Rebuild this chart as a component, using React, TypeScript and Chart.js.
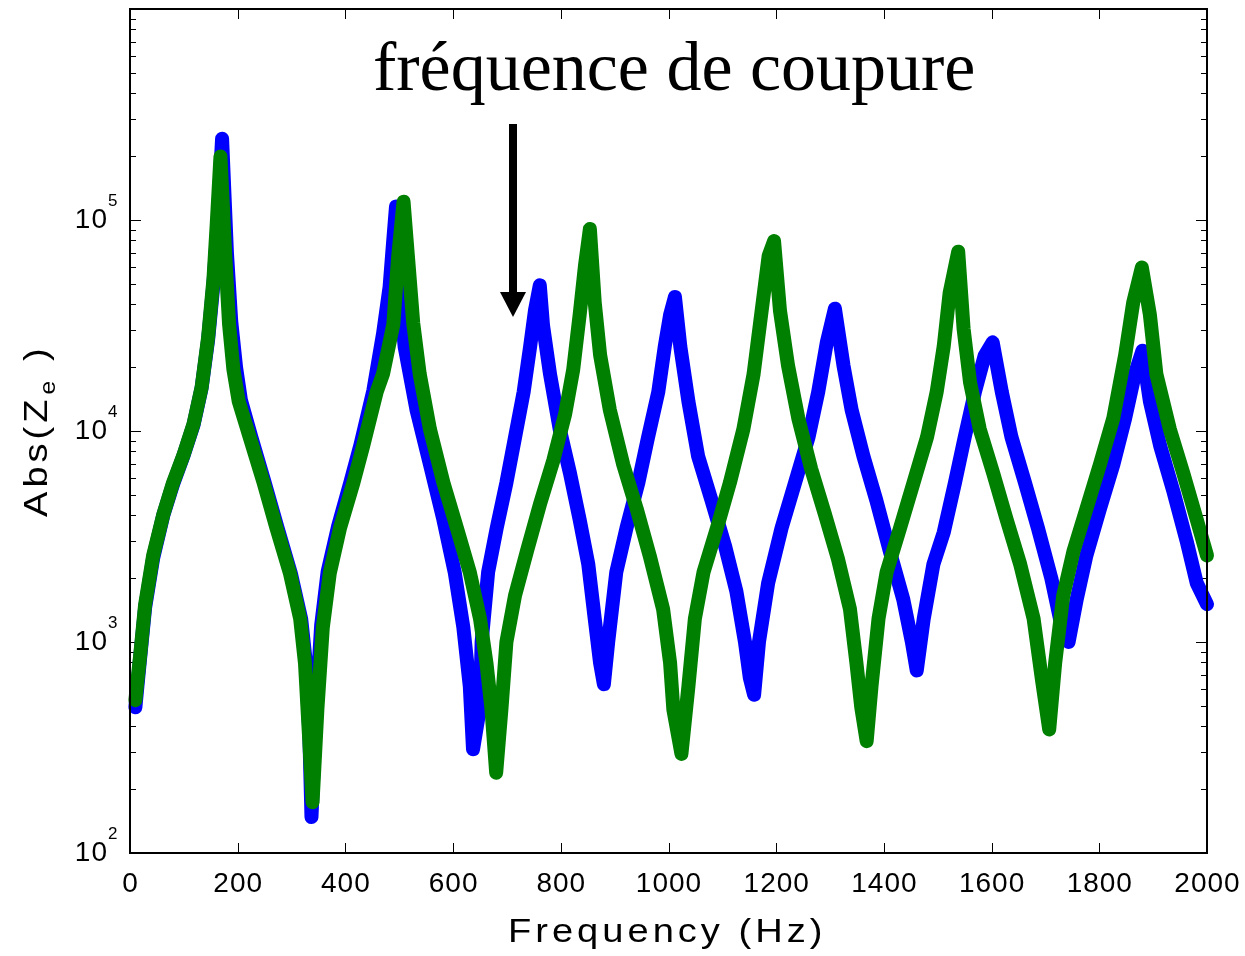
import { useEffect, useRef } from 'react';
import { Chart, registerables } from 'chart.js';

Chart.register(...registerables);

// Frequency (Hz) and |Ze| for the green curve
const freqGreen = [
  10, 19, 28, 43, 62, 80, 99, 118, 133, 145, 155, 161, 168, 177, 184, 192, 202, 222, 248, 272, 297, 316, 325, 332, 339, 348, 358, 371, 390, 415, 433, 458, 470, 489, 498, 508,
  516, 526, 538, 557, 582, 607, 631, 650, 662, 671, 680,
  690, 699, 715, 737, 761, 786, 808, 823, 835, 845, 854,
  863, 873, 891, 916, 941, 965, 990, 1003, 1009, 1024,
  1037, 1049, 1065, 1090, 1114, 1139, 1158, 1173, 1186, 1196,
  1207, 1222, 1241, 1265, 1290, 1315, 1337, 1349, 1358, 1368,
  1377, 1390, 1405, 1430, 1455, 1480, 1498, 1511, 1522, 1538,
  1548, 1560, 1578, 1603, 1628, 1653, 1678, 1693, 1707,
  1718, 1733, 1752, 1776, 1801, 1826, 1848, 1863, 1879,
  1894, 1906, 1931, 1956, 1981, 2000,
];
const zGreen = [
  530, 870, 1500, 2570, 4030, 5690, 7650, 10800, 16100, 27700, 52600, 95000, 200000, 67000, 32000, 19600, 13800, 9400, 5700, 3470, 2120, 1290, 790, 376, 174, 480, 1170, 2120, 3470, 5700, 8500, 15300, 18700, 32000, 67000, 122000,
  67600, 32400, 18600, 10200, 5690, 3470, 2140, 1290, 794, 490, 240,
  490, 1000, 1660, 2690, 4470, 7240, 12000, 19500, 35500, 61000, 90600,
  40700, 22900, 12600, 6920, 4270, 2570, 1430, 794, 479, 295,
  617, 1290, 2140, 3470, 5690, 10200, 18600, 37200, 67600, 79400,
  37200, 20400, 11500, 6610, 4070, 2460, 1430, 794, 490, 339,
  617, 1290, 2140, 3470, 5690, 9330, 15300, 25100, 45000, 70800,
  30500, 17000, 10200, 6310, 3800, 2340, 1290, 676, 385,
  794, 1660, 2690, 4270, 6920, 11500, 22900, 40700, 59600,
  35500, 18600, 10200, 6310, 3800, 2570,
];

// Frequency (Hz) and |Ze| for the blue curve
const freqBlue = [
  10, 19, 28, 43, 62, 80, 99, 118, 133, 145, 155, 162, 171, 180, 188, 197, 206, 225, 250, 274, 299, 318, 327, 333, 337, 346, 355, 367, 386, 410, 428, 452, 470, 482, 488, 494,
  503, 510, 532, 557, 582, 603, 619, 631, 637,
  650, 653, 665, 681, 699, 715, 731, 743, 752, 761,
  767, 780, 798, 817, 835, 851, 863, 873, 880,
  888, 903, 922, 944, 962, 981, 993, 1003, 1012,
  1022, 1037, 1055, 1080, 1105, 1126, 1142, 1151, 1159,
  1168, 1185, 1210, 1235, 1260, 1278, 1294, 1309,
  1325, 1340, 1362, 1386, 1411, 1436, 1452, 1461,
  1474, 1492, 1511, 1532, 1550, 1569, 1587, 1602,
  1619, 1637, 1662, 1686, 1711, 1727, 1743,
  1758, 1776, 1801, 1826, 1848, 1866, 1880,
  1894, 1913, 1938, 1962, 1981, 2000,
];
const zBlue = [
  490, 850, 1450, 2500, 4000, 5600, 7600, 10700, 16000, 27000, 50000, 90000, 243000, 70000, 33000, 20000, 14000, 9400, 5700, 3470, 2100, 1280, 780, 370, 148, 500, 1200, 2150, 3500, 5800, 8600, 15600, 29000, 48000, 75000, 116000,
  40000, 25100, 12600, 6950, 3800, 2140, 1175, 617, 310,
  490, 1000, 2140, 3470, 5690, 9330, 15300, 25100, 37200, 49000,
  31600, 18600, 10200, 6310, 3800, 2340, 1290, 794, 631,
  1000, 2140, 3470, 5690, 9330, 15300, 25100, 35500, 43200,
  25100, 13800, 7590, 4680, 2850, 1740, 1000, 676, 562,
  1000, 1900, 3470, 5690, 9330, 15300, 26300, 38000,
  20400, 12600, 7590, 4680, 2690, 1590, 1000, 733,
  1290, 2340, 3300, 5690, 9330, 15300, 22700, 26300,
  15300, 9330, 5690, 3470, 2000, 1290, 1000,
  1590, 2570, 4270, 6920, 11500, 18600, 24000,
  13800, 8510, 5130, 3020, 1900, 1510,
];

const xTicks = [0, 200, 400, 600, 800, 1000, 1200, 1400, 1600, 1800, 2000];
const yDecadeExponents = [2, 3, 4, 5, 6];
const yLabelExponents = [2, 3, 4, 5];
const xTitle = 'Frequency (Hz)';
const yTitleMain = 'Abs(Z';
const yTitleSub = 'e';
const yTitleEnd = ')';
const annotationText = 'fréquence de coupure';

const SANS = "'Liberation Sans', Arial, sans-serif";
const SERIF = "'Liberation Serif', 'Times New Roman', serif";

function stretchedText(ctx: any, text: string, x: number, y: number, font: string, sx: number, spacing: number) {
  ctx.save();
  ctx.translate(x, y);
  ctx.scale(sx, 1);
  ctx.font = font;
  ctx.letterSpacing = `${spacing / sx}px`;
  ctx.textAlign = 'left';
  ctx.textBaseline = 'alphabetic';
  ctx.fillText(text, 0, 0);
  const w = ctx.measureText(text).width * sx;
  ctx.restore();
  return w;
}

export default function App() {
  const ref = useRef<HTMLCanvasElement>(null);

  useEffect(() => {
    const canvas = ref.current;
    if (!canvas) return;

    const axesPlugin = {
      id: 'matlabAxes',
      beforeDatasetsDraw(chart: any) {
        const { ctx, chartArea } = chart;
        const xs = chart.scales.x;
        const ys = chart.scales.y;
        const { left, right, top, bottom } = chartArea;
        ctx.save();
        ctx.strokeStyle = '#000000';
        ctx.lineWidth = 1;
        ctx.beginPath();
        for (const t of xTicks) {
          const px = Math.round(xs.getPixelForValue(t)) + 0.5;
          ctx.moveTo(px, bottom);
          ctx.lineTo(px, bottom - 10);
          ctx.moveTo(px, top);
          ctx.lineTo(px, top + 10);
        }
        for (const e of yDecadeExponents) {
          const base = Math.pow(10, e);
          const py = Math.round(ys.getPixelForValue(base)) + 0.5;
          ctx.moveTo(left, py);
          ctx.lineTo(left + 11, py);
          ctx.moveTo(right, py);
          ctx.lineTo(right - 11, py);
          if (e < 6) {
            for (let m = 2; m <= 9; m++) {
              const pm = Math.round(ys.getPixelForValue(base * m)) + 0.5;
              ctx.moveTo(left, pm);
              ctx.lineTo(left + 6, pm);
              ctx.moveTo(right, pm);
              ctx.lineTo(right - 6, pm);
            }
          }
        }
        ctx.stroke();
        ctx.restore();
      },
      afterDraw(chart: any) {
        const { ctx, chartArea } = chart;
        const xs = chart.scales.x;
        const ys = chart.scales.y;
        const { left, right, top, bottom } = chartArea;
        ctx.save();
        ctx.strokeStyle = '#000000';
        ctx.lineWidth = 2;
        ctx.strokeRect(left, top, right - left, bottom - top);

        ctx.fillStyle = '#000000';
        // x tick labels
        ctx.font = `28px ${SANS}`;
        ctx.letterSpacing = '1px';
        ctx.textAlign = 'center';
        ctx.textBaseline = 'alphabetic';
        for (const t of xTicks) {
          ctx.fillText(String(t), xs.getPixelForValue(t) + 0.5, 892);
        }
        // y tick labels
        for (const e of yLabelExponents) {
          const py = ys.getPixelForValue(Math.pow(10, e));
          ctx.font = `28px ${SANS}`;
          ctx.letterSpacing = '1px';
          ctx.textAlign = 'right';
          ctx.fillText('10', 108, py + 8);
          ctx.font = `17px ${SANS}`;
          ctx.letterSpacing = '0px';
          ctx.textAlign = 'left';
          ctx.fillText(String(e), 108, py - 14);
        }
        // x title
        stretchedText(ctx, xTitle, 508, 942, `34px ${SANS}`, 1.12, 4);

        // y title rotated
        ctx.save();
        ctx.translate(47, 517);
        ctx.rotate(-Math.PI / 2);
        const w = stretchedText(ctx, yTitleMain, 0, 0, `34px ${SANS}`, 1.12, 4);
        stretchedText(ctx, yTitleSub, w + 1, 8, `22px ${SANS}`, 1.12, 0);
        stretchedText(ctx, yTitleEnd, 156, 0, `34px ${SANS}`, 1.12, 0);
        ctx.restore();

        // annotation
        ctx.letterSpacing = '0px';
        ctx.font = `70px ${SERIF}`;
        ctx.textAlign = 'left';
        ctx.fillText(annotationText, 373, 90);

        // arrow
        ctx.fillRect(509, 124, 8, 170);
        ctx.beginPath();
        ctx.moveTo(500, 292);
        ctx.lineTo(526, 292);
        ctx.lineTo(513, 317);
        ctx.closePath();
        ctx.fill();
        ctx.restore();
      },
    };

    const lineStyle = {
      borderWidth: 14,
      pointRadius: 0,
      tension: 0,
      fill: false,
      borderCapStyle: 'round',
      borderJoinStyle: 'round',
      clip: false,
    };

    const chart = new Chart(canvas, {
      type: 'line',
      data: {
        datasets: [
          {
            label: 'green',
            data: freqGreen.map((f, i) => ({ x: f, y: zGreen[i] })),
            borderColor: '#008000',
            backgroundColor: '#008000',
            order: 0,
            ...lineStyle,
          } as any,
          {
            label: 'blue',
            data: freqBlue.map((f, i) => ({ x: f, y: zBlue[i] })),
            borderColor: '#0000ff',
            backgroundColor: '#0000ff',
            order: 1,
            ...lineStyle,
          } as any,
        ],
      },
      options: {
        animation: false,
        responsive: false,
        devicePixelRatio: 1,
        layout: { padding: { left: 0, right: 38, top: 9, bottom: 0 } },
        plugins: { legend: { display: false }, tooltip: { enabled: false } },
        scales: {
          x: {
            type: 'linear',
            min: 0,
            max: 2000,
            grid: { display: false },
            border: { display: false },
            ticks: { display: false },
            afterFit: (s: any) => {
              s.height = 103;
            },
          },
          y: {
            type: 'logarithmic',
            min: 100,
            max: 1000000,
            grid: { display: false },
            border: { display: false },
            ticks: { display: false },
            afterFit: (s: any) => {
              s.width = 130;
            },
          },
        },
      } as any,
      plugins: [axesPlugin],
    });

    return () => chart.destroy();
  }, []);

  return (
    <div style={{ position: 'absolute', left: 0, top: 0, width: 1245, height: 956, background: '#ffffff' }}>
      <canvas ref={ref} width={1245} height={956} style={{ display: 'block' }} />
    </div>
  );
}
